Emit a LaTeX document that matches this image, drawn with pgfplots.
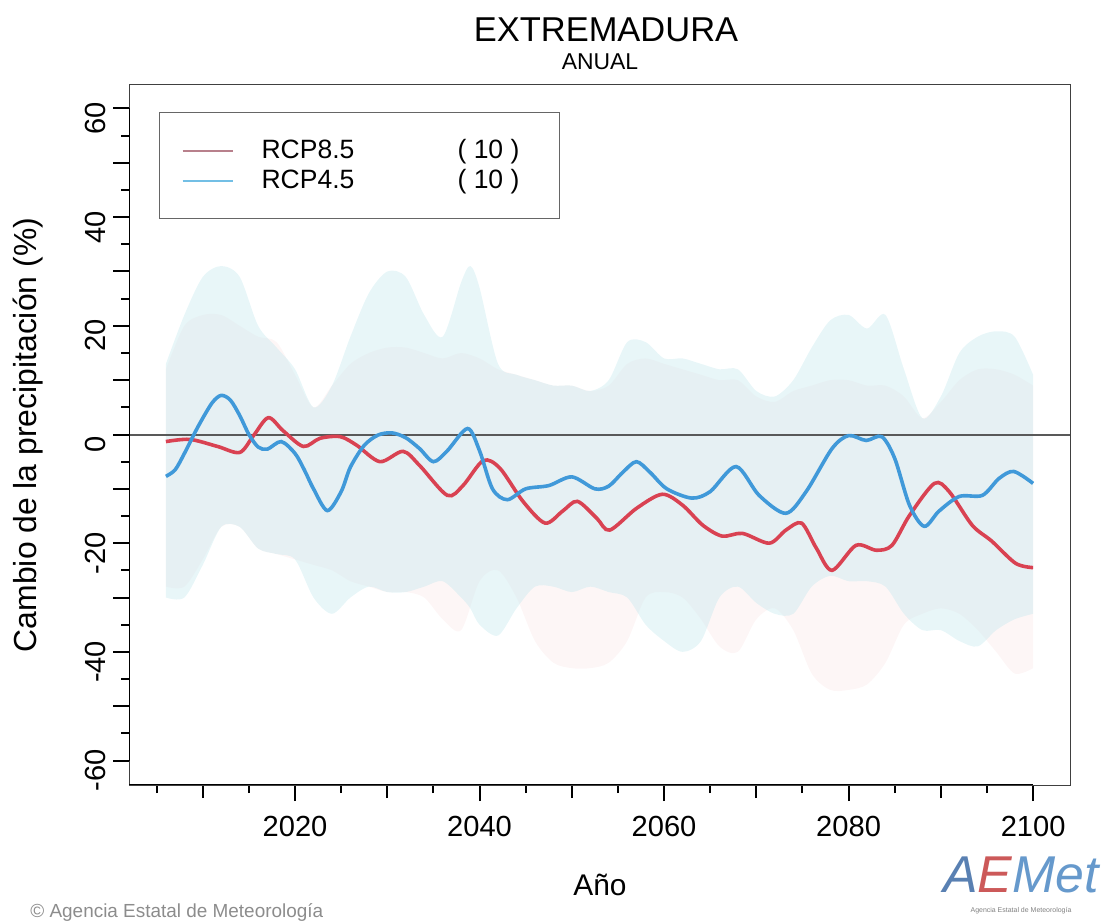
\documentclass[border=0pt]{standalone}
\usepackage{fontspec}
\setmainfont{Liberation Sans}
\usepackage{pgfplots}
\usepackage{pgfplotstable}
\pgfplotsset{compat=1.18}
\usepgfplotslibrary{fillbetween}

\definecolor{rcpred}{rgb}{0.85,0.26,0.32}
\definecolor{rcpblue}{rgb}{0.25,0.60,0.85}
\definecolor{bandcyan}{rgb}{0.72,0.90,0.92}
\definecolor{bandpink}{rgb}{0.95,0.72,0.74}

% model spread, RCP4.5: year, upper, lower
\pgfplotstableread{
year up lo
2006 13 -30
2008 22 -30
2010 29 -24
2012 31 -17
2014 29 -17
2016 20 -21
2018 16 -22
2020 12 -23
2022 5 -30
2024 9 -33
2026 18 -30
2028 26 -28
2030 30 -29
2032 29 -29
2034 22 -28
2036 18 -27
2038 28 -30
2039 31 -32
2040 27 -35
2042 13 -37
2044 11 -32
2046 10 -28
2048 9 -28
2050 9 -29
2052 8 -28
2054 10 -29
2056 17 -30
2058 17 -35
2060 14 -38
2062 14 -40
2064 13 -38
2066 12 -30
2068 12 -28
2070 8 -31
2072 7 -33
2074 10 -33
2076 16 -28
2078 21 -26
2080 22 -27
2082 19.5 -27
2084 22 -28
2086 12 -33
2088 3 -36
2090 7 -36
2092 15 -38
2094 18 -39
2096 19 -36
2098 18 -34
2100 11 -33
}\bandA

% model spread, RCP8.5: year, upper, lower
\pgfplotstableread{
year up lo
2006 12 -28
2008 20 -28
2010 22 -23
2012 22 -17
2014 20 -17
2016 18 -21
2018 17 -22
2020 11 -23
2022 5 -24
2024 9 -25
2026 13 -27
2028 15 -28
2030 16 -29
2032 16 -29
2034 15 -30
2036 14 -34
2038 15 -36
2040 14 -27
2042 12 -25
2044 11 -30
2046 10 -38
2048 9 -42
2050 9 -43
2052 8 -43
2054 9 -42
2056 13 -38
2058 14 -30
2060 13 -29
2062 12 -30
2064 11 -34
2066 10 -39
2068 10 -40
2070 7 -34
2072 6 -32
2074 8 -36
2076 9 -44
2078 10 -47
2080 10 -47
2082 9 -46
2084 9 -42
2086 7 -35
2088 3 -33
2090 6 -32
2092 10 -33
2094 12 -36
2096 12 -40
2098 11 -44
2100 9 -43
}\bandB

% ensemble mean RCP4.5
\pgfplotstableread{
year val
2006 -7.7
2007 -6.5
2008 -3.5
2009.5 1.5
2011 5.8
2012 7.2
2013 6.3
2014 3.5
2015 0
2016 -2.3
2017 -2.7
2018.5 -1.3
2020 -3.5
2021 -6.5
2022 -10
2023.5 -14
2025 -10.5
2026 -6
2027.5 -2
2029 -0.1
2030.5 0.3
2032 -0.6
2033.5 -2.6
2035 -5
2036.5 -3
2038.7 1.1
2040 -3
2041.4 -10
2043 -12
2045 -10
2047.5 -9.4
2050 -7.8
2052.5 -10
2054 -9.5
2055.5 -7
2057 -5
2058.5 -7
2060.3 -10
2063 -11.7
2065 -10.5
2067.8 -5.9
2070.3 -11.2
2073.2 -14.5
2075.4 -10.5
2078.2 -2.6
2080 -0.2
2081.9 -1.1
2083.6 -0.4
2085 -4.4
2086.6 -13
2088.2 -16.9
2089.8 -14.1
2092 -11.4
2094.5 -11.2
2096.3 -8.1
2097.9 -6.8
2100 -9
}\meanA

% ensemble mean RCP8.5
\pgfplotstableread{
year val
2006 -1.3
2008.6 -0.9
2011.6 -2.2
2014 -3.3
2015.5 -0.2
2017.1 3.1
2018.7 0.7
2020.9 -2.2
2022.7 -0.7
2024.9 -0.4
2026.7 -2
2029.2 -5
2031.7 -3.1
2033.5 -5.7
2036.5 -11.2
2038.2 -9.4
2040.4 -4.8
2042.2 -6.2
2044.7 -12.3
2047.1 -16.3
2049 -14.1
2050.6 -12.3
2052.7 -15.4
2054.1 -17.6
2057 -13.6
2059.8 -11
2062 -13
2064.2 -16.7
2066.3 -18.7
2068.5 -18.2
2071.4 -20
2073.2 -17.6
2074.9 -16.3
2076.5 -20.9
2078.2 -25
2080.8 -20.4
2083 -21.3
2084.7 -20.4
2086.6 -14.9
2089.3 -9
2090.9 -10.5
2093.4 -16.7
2095.5 -19.6
2098.1 -23.7
2100 -24.5
}\meanB

\begin{document}
\begin{tikzpicture}
\begin{axis}[
    at={(0,0)}, anchor=south west,
    scale only axis, width=470.5bp, height=350.5bp,
    xmin=2002, xmax=2104, ymin=-64.5, ymax=64.5,
    axis line style={black!75, line width=0.5bp},
    xtick pos=left, ytick pos=left, tick align=outside,
    tick style={black, line width=1bp},
    major tick length=8bp, minor tick length=4bp,
    xtick={2020,2040,...,2100},
    minor xtick={2005,2010,...,2100},
    extra x ticks={2010,2030,2050,2070,2090},
    extra x tick labels={},
    extra x tick style={major tick length=6.5bp},
    ytick={-60,-40,...,60},
    minor ytick={-55,-45,...,55},
    extra y ticks={-50,-30,-10,10,30,50},
    extra y tick labels={},
    /pgf/number format/assume math mode=true,
    /pgf/number format/1000 sep={},
    xticklabel style={font=\fontsize{14.6}{16}\selectfont, yshift=-4bp},
    yticklabel style={font=\fontsize{14.6}{16}\selectfont, rotate=90, anchor=south, xshift=-5bp},
    legend style={at={(0.032,0.96)}, anchor=north west, draw=black!60, line width=0.5bp,
        font=\fontsize{13.3}{15.5}\selectfont, inner xsep=11bp, inner ysep=11.5bp,
        row sep=0bp, column sep=12bp},
    legend cell align=left,
    legend image code/.code={\draw[#1] (0bp,0bp) -- (25bp,0bp);},
]
% spreads
\addplot[draw=none, smooth, name path=ua, forget plot] table[x=year, y=up] {\bandA};
\addplot[draw=none, smooth, name path=la, forget plot] table[x=year, y=lo] {\bandA};
\addplot[draw=none, smooth, name path=ub, forget plot] table[x=year, y=up] {\bandB};
\addplot[draw=none, smooth, name path=lb, forget plot] table[x=year, y=lo] {\bandB};
\addplot[bandpink, fill opacity=0.13, forget plot] fill between[of=ub and lb];
\addplot[bandcyan, fill opacity=0.33, forget plot] fill between[of=ua and la];
% zero line
\addplot[black!65, line width=1bp, forget plot] coordinates {(2002,0) (2104,0)};
% means
\addplot[rcpred, line width=1.8bp, smooth, forget plot] table[x=year, y=val] {\meanB};
\addplot[rcpblue, line width=1.8bp, smooth, forget plot] table[x=year, y=val] {\meanA};
% legend
\addlegendimage{color={rgb,1:red,0.72;green,0.5;blue,0.55}, line width=1bp}
\addlegendentry{\makebox[136bp][l]{\makebox[98bp][l]{RCP8.5}( 10 )}}
\addlegendimage{color={rgb,1:red,0.45;green,0.75;blue,0.9}, line width=1bp}
\addlegendentry{\makebox[136bp][l]{\makebox[98bp][l]{RCP4.5}( 10 )}}
% thick axis lines
\draw[black, line width=1.3bp] (axis cs:2002,-60) -- (axis cs:2002,60);
\draw[black, line width=1.3bp] (axis cs:2002,-64.5) -- (axis cs:2100,-64.5);
\end{axis}
\node[font=\fontsize{17.3}{19}\selectfont] at (238.5bp,377.5bp) {EXTREMADURA};
\node[font=\fontsize{11.5}{13}\selectfont] at (235.5bp,361.5bp) {ANUAL};
\node[font=\fontsize{15}{17}\selectfont] at (235.5bp,-50bp) {Año};
\node[font=\fontsize{16}{18}\selectfont, rotate=90] at (-50.5bp,175bp) {Cambio de la precipitación (\%)};
\node[font=\fontsize{9.5}{11}\selectfont, text=black!45, anchor=west, inner sep=0pt] at (-49.5bp,-63.5bp) {© Agencia Estatal de Meteorología};
\node[font=\fontsize{26}{28}\selectfont\itshape, inner sep=0pt] at (446bp,-45bp)
  {\textcolor[rgb]{0.35,0.5,0.7}{A}\textcolor[rgb]{0.8,0.35,0.35}{E}\textcolor[rgb]{0.4,0.6,0.8}{Met}};
\node[font=\fontsize{3.5}{4}\selectfont, text=black!50, inner sep=0pt] at (446bp,-63bp) {Agencia Estatal de Meteorología};
\pgfresetboundingbox
\path[use as bounding box] (-64.5bp,-69.5bp) rectangle (489bp,392.5bp);
\end{tikzpicture}
\end{document}
